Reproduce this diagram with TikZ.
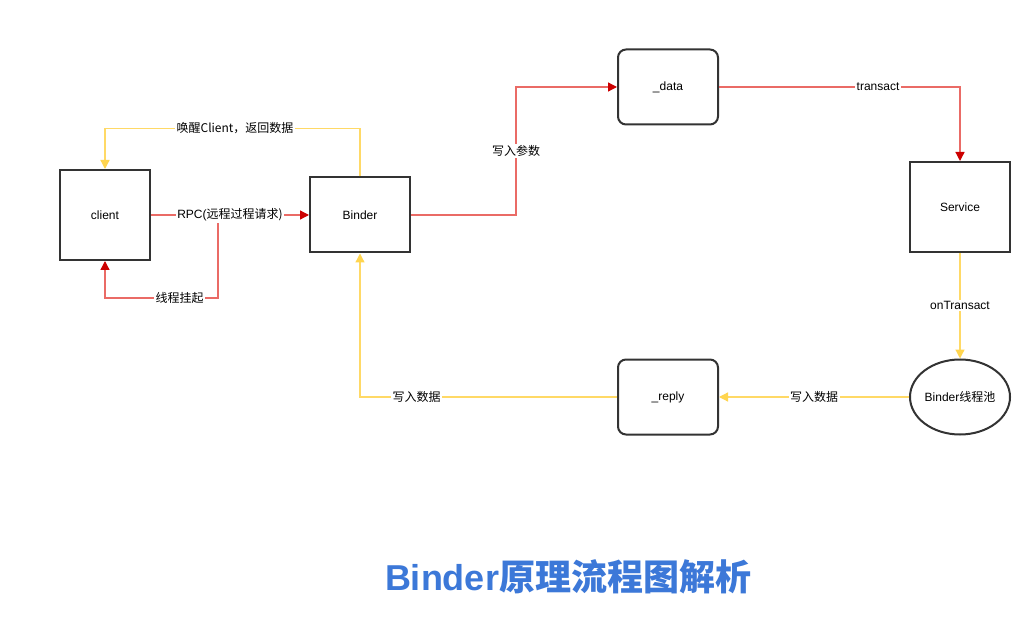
\documentclass[tikz,border=0pt]{standalone}
\usepackage{fontspec}
\setmainfont{Liberation Sans}
\newfontfamily\cjk{Noto Sans CJK SC}
\usetikzlibrary{positioning,arrows.meta,shapes.geometric}
\definecolor{boxline}{HTML}{333333}
\definecolor{redline}{HTML}{EA6B66}
\definecolor{redtip}{HTML}{CC0000}
\definecolor{yelline}{HTML}{FFD966}
\definecolor{yeltip}{HTML}{FFD54F}
\definecolor{titleblue}{HTML}{3C78D8}

\begin{document}
\begin{tikzpicture}[x=1pt,y=-1pt,
  font=\fontsize{12}{14}\selectfont,
  box/.style={draw=boxline,line width=2pt,fill=white,inner sep=2pt,
              minimum width=100pt,minimum height=75pt},
  rbox/.style={box,rounded corners=8pt},
  pool/.style={draw=boxline,line width=2pt,fill=white,ellipse,inner sep=0pt,
              minimum width=100pt,minimum height=75pt},
  redarr/.style={-{Triangle[length=9pt,width=9pt,color=redtip]},redline,line width=1.3pt},
  yelarr/.style={-{Triangle[length=9pt,width=9pt,color=yeltip]},yelline,line width=1.3pt},
  lbl/.style={fill=white,inner sep=1.5pt,text=black}
]
  \useasboundingbox[fill=white] (0,0) rectangle (1030,617);

  % nodes
  \node[box,minimum width=90pt,minimum height=90pt] (client) at (105,215) {client};
  \node[box] (binder) at (360,215) {Binder};
  \node[rbox] (data) at (668,87) {\_data};
  \node[box,minimum height=90pt] (service) at (960,207) {Service};
  \node[pool] (pool) at (960,397) {Binder\cjk{线程池}};
  \node[rbox] (reply) at (668,397) {\_reply};

  % client side
  \coordinate (rpcfoot) at (218,215);
  \draw[redarr] (rpcfoot) -- ++(0,83) -| node[lbl,pos=0.17] {\cjk{线程挂起}} (client.south);
  \draw[redarr] (client) -- node[lbl] {RPC(\cjk{远程过程请求})} (binder);
  \draw[yelarr] (binder.north) -- ++(0,-48) -| node[lbl,pos=0.245] {\cjk{唤醒}Client\cjk{，返回数据}} (client.north);

  % request path
  \draw[redarr] (binder.east) -- ++(105,0) |- node[lbl,pos=0.25] {\cjk{写入参数}} (data.west);
  \draw[redarr] (data.east) -| node[lbl,pos=0.33] {transact} (service.north);

  % reply path
  \draw[yelarr] (service.south) -- node[lbl] {onTransact} (pool.north);
  \draw[yelarr] (pool.west) -- node[lbl] {\cjk{写入数据}} (reply.east);
  \draw[yelarr] (reply.west) -| node[lbl,pos=0.39] {\cjk{写入数据}} (binder.south);

  \node[font=\bfseries\fontsize{36}{42}\selectfont,text=titleblue] (title) at (568,577) {Binder\cjk{原理流程图解析}};
\end{tikzpicture}
\end{document}
